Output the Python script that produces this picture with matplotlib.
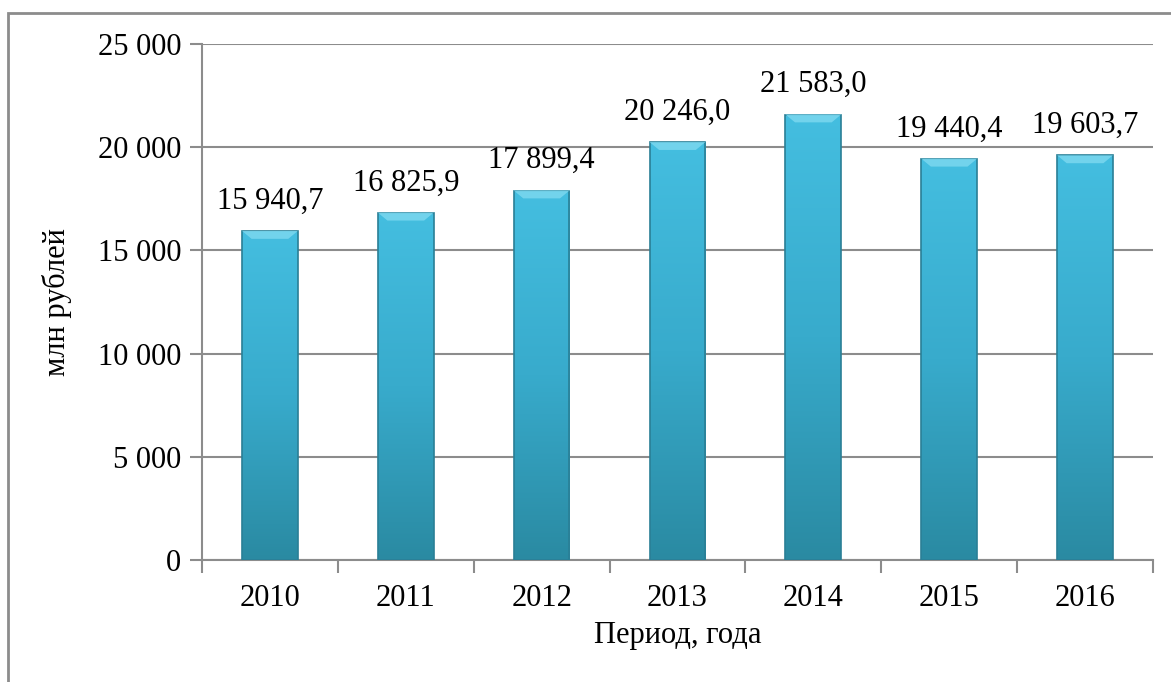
import matplotlib.pyplot as plt
import numpy as np
from matplotlib.patches import Rectangle, Polygon
from matplotlib.colors import LinearSegmentedColormap

years = ['2010', '2011', '2012', '2013', '2014', '2015', '2016']
values = [15940.7, 16825.9, 17899.4, 20246.0, 21583.0, 19440.4, 19603.7]
value_labels = ['15 940,7', '16 825,9', '17 899,4', '20 246,0', '21 583,0', '19 440,4', '19 603,7']
yticks = [0, 5000, 10000, 15000, 20000, 25000]
ytick_labels = ['0', '5 000', '10 000', '15 000', '20 000', '25 000']

plt.rcParams['font.family'] = ['Liberation Serif', 'DejaVu Serif']

fig = plt.figure(figsize=(11.71, 6.82), dpi=100)
ax = fig.add_axes([0.1725, 0.1789, 0.8121, 0.7566])

# outer frame of the chart area
fig.patches.append(Rectangle((8 / 1171, -0.05), 1.2, 1 - 13 / 682 + 0.05,
                             transform=fig.transFigure, fill=False,
                             edgecolor='#8c8c8c', linewidth=2))

x = np.arange(len(years))
width = 0.41
grad = LinearSegmentedColormap.from_list('bar', ['#2a8aa2', '#38abcc', '#44bee0'])
gimg = np.linspace(0, 1, 256).reshape(-1, 1)

ax.set_xlim(-0.5, len(years) - 0.5)
ax.set_ylim(0, 25000)

for xi, v, lab in zip(x, values, value_labels):
    left = xi - width / 2
    im = ax.imshow(gimg, extent=[left, left + width, 0, v], origin='lower',
                   cmap=grad, aspect='auto', zorder=3)
    rect = Rectangle((left, 0), width, v, facecolor='none',
                     edgecolor='#2a7f96', linewidth=1.2, zorder=4)
    ax.add_patch(rect)
    im.set_clip_path(rect)
    # light bevel on top of the bar
    b = 0.07
    ax.add_patch(Polygon([(left, v), (left + width, v), (left + width - b, v - 380),
                          (left + b, v - 380)], closed=True, facecolor='#78d6ee',
                         edgecolor='none', alpha=0.9, zorder=4))
    ax.annotate(lab, (xi, v), xytext=(0, 11), textcoords='offset points',
                ha='center', va='bottom', fontsize=22, color='black', zorder=5)

ax.set_yticks(yticks)
ax.set_yticklabels(ytick_labels)
ax.set_xticks(x)
ax.set_xticklabels(years)
ax.set_xticks(np.arange(-0.5, len(years)), minor=True)
ax.tick_params(axis='x', which='major', length=0, labelsize=22, pad=17)
ax.tick_params(axis='x', which='minor', length=9, width=1.5, color='#8c8c8c')
ax.tick_params(axis='y', length=9, width=1.5, color='#8c8c8c', labelsize=22, pad=6)

ax.grid(axis='y', color='#8c8c8c', linewidth=1.5, zorder=0)
ax.set_axisbelow(True)
for s in ['top', 'right']:
    ax.spines[s].set_visible(False)
for s in ['left', 'bottom']:
    ax.spines[s].set_color('#8c8c8c')
    ax.spines[s].set_linewidth(1.5)

ax.set_xlabel('Период, года', fontsize=22, labelpad=6)
ax.set_ylabel('млн рублей', fontsize=22)
ax.yaxis.set_label_coords(-0.137, 0.5)

fig.savefig('out.png', dpi=100)
